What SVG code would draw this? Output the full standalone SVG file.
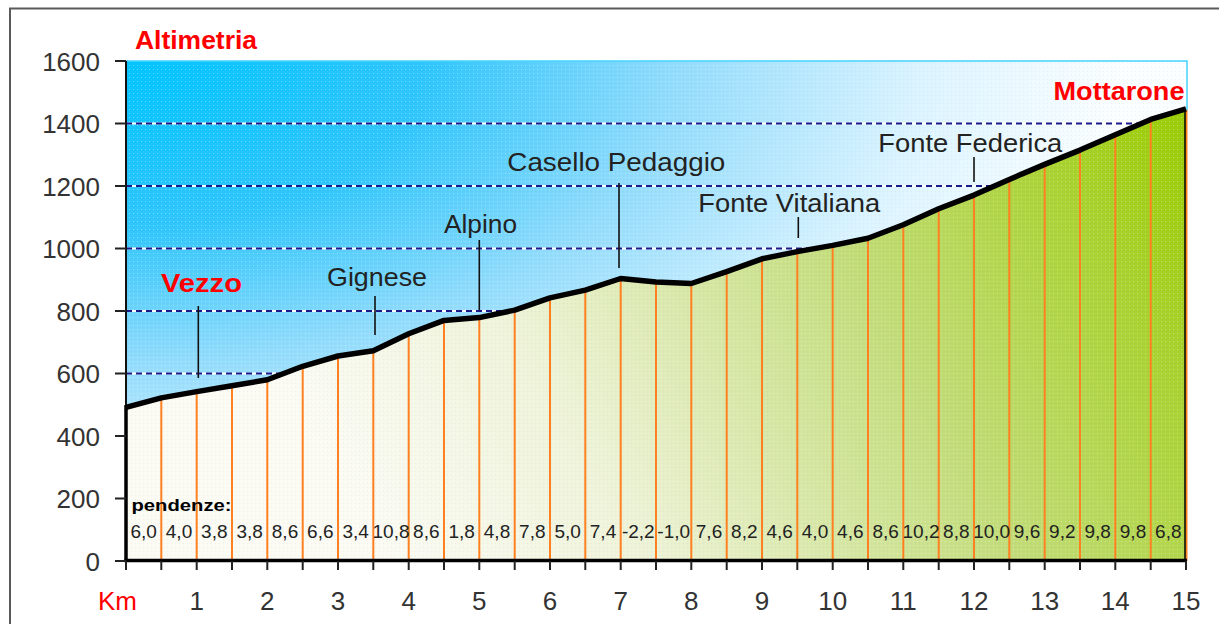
<svg xmlns="http://www.w3.org/2000/svg" width="1219" height="624" viewBox="0 0 1219 624">
<style>
.ax{font-family:"Liberation Sans",Arial,sans-serif;font-size:26px;fill:#333}
.ylab{text-anchor:end}
.xlab{text-anchor:middle}
.red{font-family:"Liberation Sans",Arial,sans-serif;font-weight:bold;font-size:26px;fill:#ff0000}
.place{font-family:"Liberation Sans",Arial,sans-serif;font-size:26px;fill:#222}
.pct{font-family:"Liberation Sans",Arial,sans-serif;font-size:19px;fill:#222;text-anchor:middle}
.grid{stroke:#1a1a8a;stroke-width:2;stroke-dasharray:6 4;fill:none}
.gridw{stroke:#ffffff;stroke-width:2;fill:none}
.or{stroke:#ff8020;stroke-width:2}
.lead{stroke:#111;stroke-width:1.6}
.tick{stroke:#222;stroke-width:2}
</style>
<defs>
<radialGradient id="sky" gradientUnits="userSpaceOnUse" cx="0" cy="0" r="1000" gradientTransform="translate(126,61) scale(1,0.55)">
<stop offset="0" stop-color="#00c4ff"/>
<stop offset="0.3" stop-color="#2ec6fc"/>
<stop offset="0.55" stop-color="#92dcfc"/>
<stop offset="0.8" stop-color="#dcf4ff"/>
<stop offset="1" stop-color="#fbfeff"/>
</radialGradient>
<linearGradient id="ground" gradientUnits="userSpaceOnUse" x1="1187" y1="100" x2="380" y2="560">
<stop offset="0" stop-color="#99cc00"/>
<stop offset="0.4" stop-color="#c2dc78"/>
<stop offset="0.75" stop-color="#eef3d8"/>
<stop offset="1" stop-color="#fbfbf4"/>
</linearGradient>
<pattern id="dots" width="4" height="4" patternUnits="userSpaceOnUse">
<rect x="1" y="1" width="1" height="1" fill="#ffffff" opacity="0.35"/>
<rect x="3" y="3" width="1" height="1" fill="#9fb0c0" opacity="0.15"/>
</pattern>
</defs>
<rect x="0" y="0" width="1219" height="624" fill="#ffffff"/>
<path d="M10,624 V8.5 H1219" fill="none" stroke="#5a5a5a" stroke-width="2"/>
<g id="sky-area">
<rect x="126" y="61" width="1061" height="500" fill="url(#sky)"/>
<rect x="126" y="61" width="1061" height="500" fill="url(#dots)"/>
<path d="M126,61 H1187 V110" fill="none" stroke="#44d4ff" stroke-width="1.5"/>
</g>
<g id="gridlines">
<line class="gridw" x1="126" y1="123.5" x2="1187" y2="123.5"/>
<line class="grid" x1="126" y1="123.5" x2="1187" y2="123.5"/>
<line class="gridw" x1="126" y1="186" x2="1187" y2="186"/>
<line class="grid" x1="126" y1="186" x2="1187" y2="186"/>
<line class="gridw" x1="126" y1="248.5" x2="1187" y2="248.5"/>
<line class="grid" x1="126" y1="248.5" x2="1187" y2="248.5"/>
<line class="gridw" x1="126" y1="311" x2="1187" y2="311"/>
<line class="grid" x1="126" y1="311" x2="1187" y2="311"/>
<line class="gridw" x1="126" y1="373.5" x2="1187" y2="373.5"/>
<line class="grid" x1="126" y1="373.5" x2="1187" y2="373.5"/>
</g>
<g id="ground-area">
<polygon points="126,561 126,407.3 161.3,397.9 196.7,391.6 232,385.7 267.3,379.8 302.7,366.3 338,356 373.3,350.7 408.7,333.8 444,320.4 479.3,317.6 514.7,310.1 550,297.9 585.3,290.1 620.7,278.5 656,281.9 691.3,283.5 726.7,271.6 762,258.8 797.3,251.6 832.7,245.4 868,238.2 903.3,224.8 938.7,208.8 974,195.1 1009.3,179.4 1044.7,164.4 1080,150.1 1115.3,134.8 1150.7,119.4 1186,108.8 1186,561" fill="url(#ground)"/>
<polygon points="126,561 126,407.3 161.3,397.9 196.7,391.6 232,385.7 267.3,379.8 302.7,366.3 338,356 373.3,350.7 408.7,333.8 444,320.4 479.3,317.6 514.7,310.1 550,297.9 585.3,290.1 620.7,278.5 656,281.9 691.3,283.5 726.7,271.6 762,258.8 797.3,251.6 832.7,245.4 868,238.2 903.3,224.8 938.7,208.8 974,195.1 1009.3,179.4 1044.7,164.4 1080,150.1 1115.3,134.8 1150.7,119.4 1186,108.8 1186,561" fill="url(#dots)"/>
</g>
<g id="connectors">
<line class="or" x1="161.3" y1="399" x2="161.3" y2="561"/>
<line class="or" x1="196.7" y1="393" x2="196.7" y2="561"/>
<line class="or" x1="232" y1="387" x2="232" y2="561"/>
<line class="or" x1="267.3" y1="381" x2="267.3" y2="561"/>
<line class="or" x1="302.7" y1="368" x2="302.7" y2="561"/>
<line class="or" x1="338" y1="357" x2="338" y2="561"/>
<line class="or" x1="373.3" y1="352" x2="373.3" y2="561"/>
<line class="or" x1="408.7" y1="335" x2="408.7" y2="561"/>
<line class="or" x1="444" y1="322" x2="444" y2="561"/>
<line class="or" x1="479.3" y1="319" x2="479.3" y2="561"/>
<line class="or" x1="514.7" y1="311" x2="514.7" y2="561"/>
<line class="or" x1="550" y1="299" x2="550" y2="561"/>
<line class="or" x1="585.3" y1="291" x2="585.3" y2="561"/>
<line class="or" x1="620.7" y1="280" x2="620.7" y2="561"/>
<line class="or" x1="656" y1="283" x2="656" y2="561"/>
<line class="or" x1="691.3" y1="285" x2="691.3" y2="561"/>
<line class="or" x1="726.7" y1="273" x2="726.7" y2="561"/>
<line class="or" x1="762" y1="260" x2="762" y2="561"/>
<line class="or" x1="797.3" y1="253" x2="797.3" y2="561"/>
<line class="or" x1="832.7" y1="247" x2="832.7" y2="561"/>
<line class="or" x1="868" y1="240" x2="868" y2="561"/>
<line class="or" x1="903.3" y1="226" x2="903.3" y2="561"/>
<line class="or" x1="938.7" y1="210" x2="938.7" y2="561"/>
<line class="or" x1="974" y1="197" x2="974" y2="561"/>
<line class="or" x1="1009.3" y1="181" x2="1009.3" y2="561"/>
<line class="or" x1="1044.7" y1="166" x2="1044.7" y2="561"/>
<line class="or" x1="1080" y1="152" x2="1080" y2="561"/>
<line class="or" x1="1115.3" y1="136" x2="1115.3" y2="561"/>
<line class="or" x1="1150.7" y1="121" x2="1150.7" y2="561"/>
<line class="or" x1="1186.5" y1="110" x2="1186.5" y2="561"/>
<polyline points="126,407.3 161.3,397.9 196.7,391.6 232,385.7 267.3,379.8 302.7,366.3 338,356 373.3,350.7 408.7,333.8 444,320.4 479.3,317.6 514.7,310.1 550,297.9 585.3,290.1 620.7,278.5 656,281.9 691.3,283.5 726.7,271.6 762,258.8 797.3,251.6 832.7,245.4 868,238.2 903.3,224.8 938.7,208.8 974,195.1 1009.3,179.4 1044.7,164.4 1080,150.1 1115.3,134.8 1150.7,119.4 1186,108.8" fill="none" stroke="#000" stroke-width="5.5" stroke-linejoin="round"/>
<line x1="1185" y1="110" x2="1185" y2="561" stroke="#000" stroke-width="1.5"/>
<line x1="126" y1="61" x2="126" y2="410" stroke="#111" stroke-width="2"/>
<line x1="126" y1="405" x2="126" y2="562" stroke="#000" stroke-width="3.5"/>
<line x1="124.5" y1="560.5" x2="1187" y2="560.5" stroke="#000" stroke-width="3.5"/>
<line class="tick" x1="115" y1="61" x2="126" y2="61"/>
<line class="tick" x1="115" y1="123.5" x2="126" y2="123.5"/>
<line class="tick" x1="115" y1="186" x2="126" y2="186"/>
<line class="tick" x1="115" y1="248.5" x2="126" y2="248.5"/>
<line class="tick" x1="115" y1="311" x2="126" y2="311"/>
<line class="tick" x1="115" y1="373.5" x2="126" y2="373.5"/>
<line class="tick" x1="115" y1="436" x2="126" y2="436"/>
<line class="tick" x1="115" y1="498.5" x2="126" y2="498.5"/>
<line class="tick" x1="115" y1="561" x2="126" y2="561"/>
<path class="tick" d="M126,561V570 M161.3,561V570 M196.7,561V570 M232,561V570 M267.3,561V570 M302.7,561V570 M338,561V570 M373.3,561V570 M408.7,561V570 M444,561V570 M479.3,561V570 M514.7,561V570 M550,561V570 M585.3,561V570 M620.7,561V570 M656,561V570 M691.3,561V570 M726.7,561V570 M762,561V570 M797.3,561V570 M832.7,561V570 M868,561V570 M903.3,561V570 M938.7,561V570 M974,561V570 M1009.3,561V570 M1044.7,561V570 M1080,561V570 M1115.3,561V570 M1150.7,561V570 M1186,561V570" fill="none"/>
<line class="lead" x1="198.3" y1="306" x2="198.3" y2="378"/>
<line class="lead" x1="375" y1="296" x2="375" y2="335"/>
<line class="lead" x1="479.3" y1="240" x2="479.3" y2="310"/>
<line class="lead" x1="619" y1="183" x2="619" y2="268"/>
<line class="lead" x1="798.3" y1="217" x2="798.3" y2="238"/>
<line class="lead" x1="974" y1="157" x2="974" y2="182"/>
</g>
<g id="y-axis-labels">
<text class="ax ylab" x="100" y="70.5">1600</text>
<text class="ax ylab" x="100" y="133">1400</text>
<text class="ax ylab" x="100" y="195.5">1200</text>
<text class="ax ylab" x="100" y="258">1000</text>
<text class="ax ylab" x="100" y="320.5">800</text>
<text class="ax ylab" x="100" y="383">600</text>
<text class="ax ylab" x="100" y="445.5">400</text>
<text class="ax ylab" x="100" y="508">200</text>
<text class="ax ylab" x="100" y="570.5">0</text>
</g>
<g id="x-axis-labels">
<text x="117.5" y="610" font-family="Liberation Sans, Arial, sans-serif" font-size="26" fill="#ff0000" text-anchor="middle">Km</text>
<text class="ax xlab" x="196.7" y="610">1</text>
<text class="ax xlab" x="267.3" y="610">2</text>
<text class="ax xlab" x="338" y="610">3</text>
<text class="ax xlab" x="408.7" y="610">4</text>
<text class="ax xlab" x="479.3" y="610">5</text>
<text class="ax xlab" x="550" y="610">6</text>
<text class="ax xlab" x="620.7" y="610">7</text>
<text class="ax xlab" x="691.3" y="610">8</text>
<text class="ax xlab" x="762" y="610">9</text>
<text class="ax xlab" x="832.7" y="610">10</text>
<text class="ax xlab" x="903.3" y="610">11</text>
<text class="ax xlab" x="974" y="610">12</text>
<text class="ax xlab" x="1044.7" y="610">13</text>
<text class="ax xlab" x="1115.3" y="610">14</text>
<text class="ax xlab" x="1186" y="610">15</text>
</g>
<g id="title">
<text class="red" x="135" y="49" textLength="122" lengthAdjust="spacingAndGlyphs">Altimetria</text>
</g>
<g id="node-vezzo">
<text class="red" x="161" y="291.5" textLength="81" lengthAdjust="spacingAndGlyphs">Vezzo</text>
</g>
<g id="node-mottarone">
<text class="red" x="1053.5" y="99.5" textLength="131" lengthAdjust="spacingAndGlyphs">Mottarone</text>
</g>
<g id="node-gignese">
<text class="place" x="327" y="286" textLength="100" lengthAdjust="spacingAndGlyphs">Gignese</text>
</g>
<g id="node-alpino">
<text class="place" x="444" y="233.3" textLength="73" lengthAdjust="spacingAndGlyphs">Alpino</text>
</g>
<g id="node-casello">
<text class="place" x="507.3" y="171" textLength="218" lengthAdjust="spacingAndGlyphs">Casello Pedaggio</text>
</g>
<g id="node-vitaliana">
<text class="place" x="698.3" y="212" textLength="182" lengthAdjust="spacingAndGlyphs">Fonte Vitaliana</text>
</g>
<g id="node-federica">
<text class="place" x="878.3" y="152" textLength="184" lengthAdjust="spacingAndGlyphs">Fonte Federica</text>
</g>
<g id="pendenze">
<text x="131.5" y="511" font-family="Liberation Sans, Arial, sans-serif" font-weight="bold" font-size="17" fill="#000" textLength="100" lengthAdjust="spacingAndGlyphs">pendenze:</text>
<text class="pct" x="143.7" y="537.5">6,0</text>
<text class="pct" x="179" y="537.5">4,0</text>
<text class="pct" x="214.3" y="537.5">3,8</text>
<text class="pct" x="249.7" y="537.5">3,8</text>
<text class="pct" x="285" y="537.5">8,6</text>
<text class="pct" x="320.3" y="537.5">6,6</text>
<text class="pct" x="355.7" y="537.5">3,4</text>
<text class="pct" x="391" y="537.5">10,8</text>
<text class="pct" x="426.3" y="537.5">8,6</text>
<text class="pct" x="461.7" y="537.5">1,8</text>
<text class="pct" x="497" y="537.5">4,8</text>
<text class="pct" x="532.3" y="537.5">7,8</text>
<text class="pct" x="567.7" y="537.5">5,0</text>
<text class="pct" x="603" y="537.5">7,4</text>
<text class="pct" x="638.3" y="537.5">-2,2</text>
<text class="pct" x="673.7" y="537.5">-1,0</text>
<text class="pct" x="709" y="537.5">7,6</text>
<text class="pct" x="744.3" y="537.5">8,2</text>
<text class="pct" x="779.7" y="537.5">4,6</text>
<text class="pct" x="815" y="537.5">4,0</text>
<text class="pct" x="850.3" y="537.5">4,6</text>
<text class="pct" x="885.7" y="537.5">8,6</text>
<text class="pct" x="921" y="537.5">10,2</text>
<text class="pct" x="956.3" y="537.5">8,8</text>
<text class="pct" x="991.7" y="537.5">10,0</text>
<text class="pct" x="1027" y="537.5">9,6</text>
<text class="pct" x="1062.3" y="537.5">9,2</text>
<text class="pct" x="1097.7" y="537.5">9,8</text>
<text class="pct" x="1133" y="537.5">9,8</text>
<text class="pct" x="1168.3" y="537.5">6,8</text>
</g>
</svg>
